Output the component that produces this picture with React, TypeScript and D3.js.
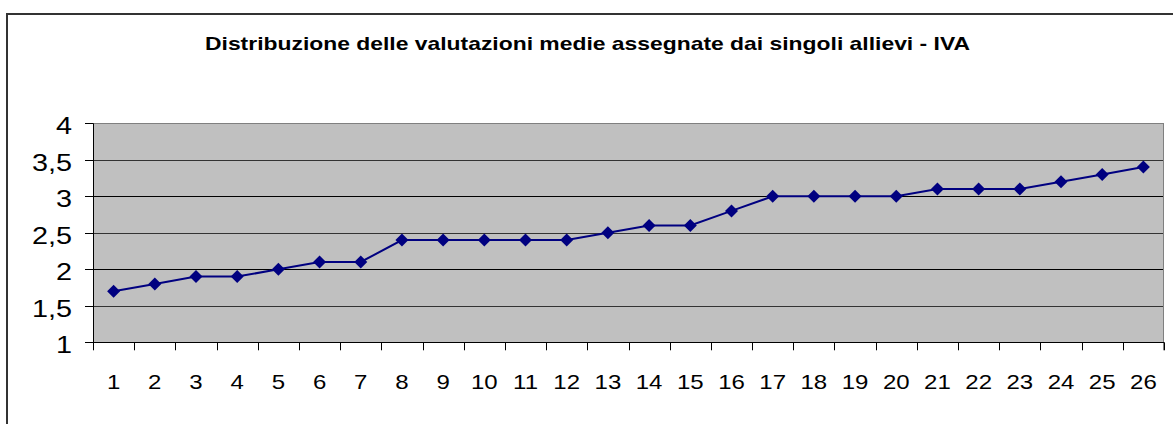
import React from "react";
import * as d3 from "d3";

const title = "Distribuzione delle valutazioni medie assegnate dai singoli allievi - IVA";
const categories = ["1","2","3","4","5","6","7","8","9","10","11","12","13","14","15","16","17","18","19","20","21","22","23","24","25","26"];
const values = [1.7,1.8,1.9,1.9,2.0,2.1,2.1,2.4,2.4,2.4,2.4,2.4,2.5,2.6,2.6,2.8,3.0,3.0,3.0,3.0,3.1,3.1,3.1,3.2,3.3,3.4];
const yTicks = [1,1.5,2,2.5,3,3.5,4];

export default function App() {
  const W = 1173, H = 424;
  const left = 93, right = 1164, top = 123.3, bottom = 342.3;
  const x = d3.scaleBand<string>().domain(categories).range([left, right]);
  const y = d3.scaleLinear().domain([1, 4]).range([bottom, top]);
  const fmt = (v: number) => String(v).replace(".", ",");
  const line = d3.line<number>()
    .x((_, i) => x(categories[i])! + x.bandwidth() / 2)
    .y((d) => y(d));
  const r = 6.5;
  const diamond = `M0,${-r}L${r},0L0,${r}L${-r},0Z`;
  const font = "'Liberation Sans', Arial, sans-serif";
  return (
    <svg width={W} height={H} style={{ position: "absolute", left: 0, top: 0 }} fontFamily={font}>
      <rect x={0} y={0} width={W} height={H} fill="#fff" />
      <path d={`M7,${H + 5} V14 H${W + 5}`} fill="none" stroke="#333" strokeWidth={2} />
      <text x={587.5} y={50} textAnchor="middle" fontWeight="bold" fontSize={19}
        textLength={765} lengthAdjust="spacingAndGlyphs">{title}</text>
      <rect x={left} y={top} width={right - left} height={bottom - top} fill="#c0c0c0" />
      {yTicks.filter((t) => t > 1).map((t) => (
        <line key={t} x1={left} x2={right} y1={Math.round(y(t)) + 0.5} y2={Math.round(y(t)) + 0.5}
          stroke={t === 4 ? "#808080" : t % 1 ? "#333" : "#000"} strokeWidth={1} />
      ))}
      <line x1={right - 0.5} x2={right - 0.5} y1={top} y2={bottom + 8} stroke="#808080" />
      <line x1={left + 0.5} x2={left + 0.5} y1={top} y2={bottom + 8} stroke="#000" />
      <line x1={left} x2={right} y1={Math.round(bottom) + 0.5} y2={Math.round(bottom) + 0.5} stroke="#000" />
      {yTicks.map((t) => (
        <g key={t}>
          <line x1={left - 8} x2={left} y1={Math.round(y(t)) + 0.5} y2={Math.round(y(t)) + 0.5} stroke="#000" />
          <text transform={`translate(72,${y(t) + 10.8}) scale(1.2,1)`} textAnchor="end" fontSize={24}>{fmt(t)}</text>
        </g>
      ))}
      {categories.map((c) => (
        <g key={c}>
          <line x1={Math.round(x(c)! + x.bandwidth()) + 0.5} x2={Math.round(x(c)! + x.bandwidth()) + 0.5}
            y1={bottom} y2={bottom + 8} stroke="#000" />
          <text transform={`translate(${x(c)! + x.bandwidth() / 2},388.5) scale(1.2,1)`} textAnchor="middle" fontSize={20}>{c}</text>
        </g>
      ))}
      <path d={line(values)!} fill="none" stroke="#000080" strokeWidth={2} />
      {values.map((v, i) => (
        <path key={i} d={diamond} transform={`translate(${x(categories[i])! + x.bandwidth() / 2},${y(v)})`} fill="#000080" />
      ))}
    </svg>
  );
}
